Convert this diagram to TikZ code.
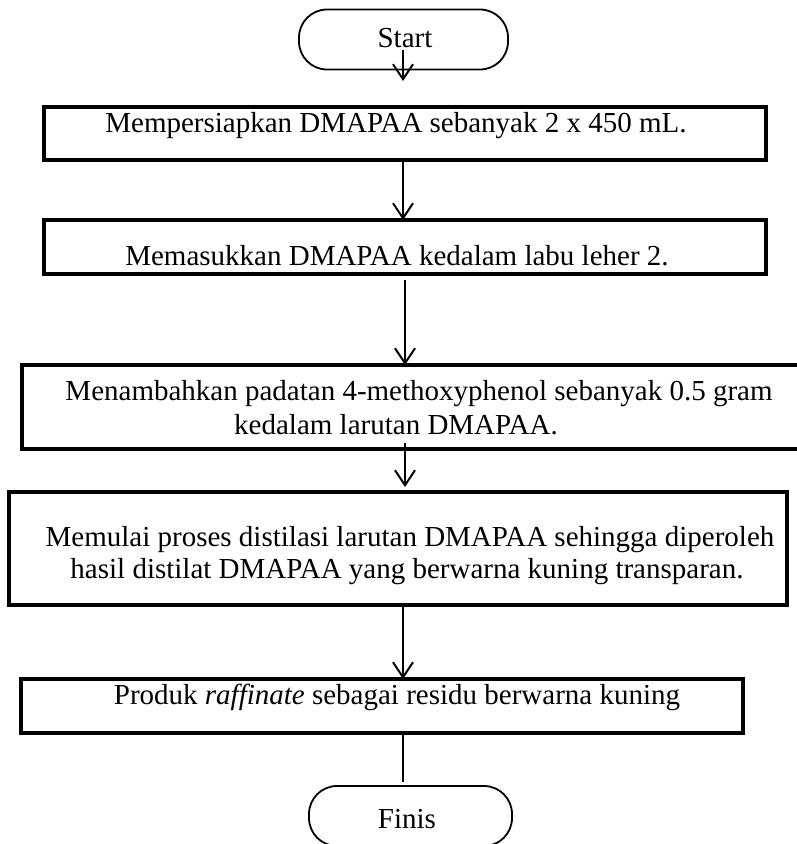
\documentclass[tikz,border=0pt]{standalone}
\usepackage{fontspec}
\setmainfont{Liberation Serif}
\usetikzlibrary{arrows.meta}
\begin{document}
\begin{tikzpicture}[x=1pt,y=-1pt,
  box/.style={draw, line width=4pt, rectangle, inner sep=0pt, outer sep=0pt},
  term/.style={draw, line width=1.8pt, rounded corners=28pt, inner sep=0pt, outer sep=0pt},
  txt/.style={font=\fontsize{29}{34}\selectfont, anchor=base, inner sep=0pt},
  arr/.style={line width=2pt, -{Straight Barb[length=15pt,width=20pt,line width=2pt]}},
  ln/.style={line width=2pt}]
\useasboundingbox (0,0) rectangle (797,844);
% shapes
\node[term, minimum width=209, minimum height=60] (start) at (403.5,39.5) {};
\node[txt] (tstart) at (405,47) {Start};
\node[box, minimum width=722, minimum height=53] (b1) at (405,133.5) {};
\node[txt] (t1) at (396,132) {Mempersiapkan DMAPAA sebanyak 2 x 450 mL.};
\node[box, minimum width=722, minimum height=54] (b2) at (405,247) {};
\node[txt] (t2) at (397,265) {Memasukkan DMAPAA kedalam labu leher 2.};
\node[box, minimum width=783, minimum height=84] (b3) at (413.5,407) {};
\node[txt] (t3a) at (419,400) {Menambahkan padatan 4-methoxyphenol sebanyak 0.5 gram};
\node[txt] (t3b) at (396,434) {kedalam larutan DMAPAA.};
\node[box, minimum width=778, minimum height=113] (b4) at (398,548.5) {};
\node[txt] (t4a) at (410,546) {Memulai proses distilasi larutan DMAPAA sehingga diperoleh};
\node[txt] (t4b) at (407,578) {hasil distilat DMAPAA yang berwarna kuning transparan.};
\node[box, minimum width=722, minimum height=54] (b5) at (382,706) {};
\node[txt] (t5) at (397,704) {Produk \textit{raffinate} sebagai residu berwarna kuning};
\node[term, minimum width=203, minimum height=60] (finis) at (410.5,816) {};
\node[txt] (tfinis) at (407,828) {Finis};
% connectors
\coordinate (ax) at (403,0);
\coordinate (ax2) at (405,0);
\draw[arr] ([yshift=20pt]ax |- start.south) -- ([yshift=26pt]ax |- b1.north);
\draw[arr] (ax |- b1.south) -- (ax |- b2.north);
\draw[arr] ([yshift=-6pt]ax2 |- b2.south) -- (ax2 |- b3.north);
\draw[arr] ([yshift=6pt]ax2 |- b3.south) -- ([yshift=5pt]ax2 |- b4.north);
\draw[arr] (ax |- b4.south) -- (ax |- b5.north);
\draw[ln] (ax |- b5.south) -- ([yshift=4pt]ax |- finis.north);
\end{tikzpicture}
\end{document}
